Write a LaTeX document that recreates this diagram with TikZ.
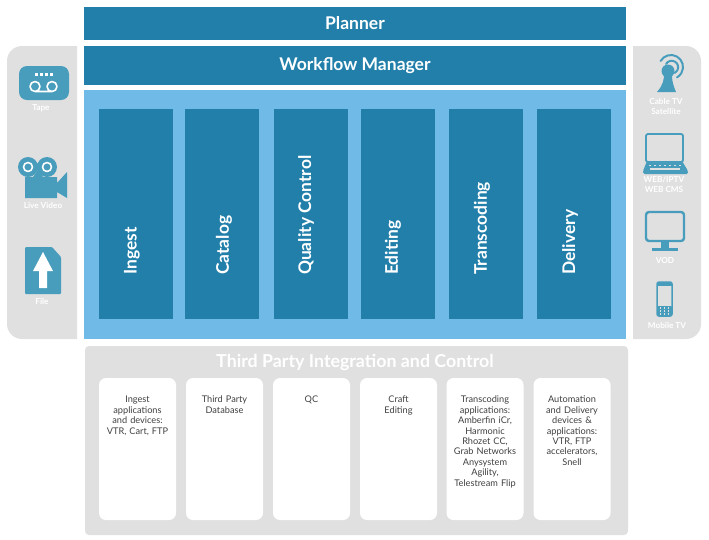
\documentclass[tikz,border=0pt]{standalone}
\usepackage{fontspec}
\setmainfont{Lato}
\usetikzlibrary{positioning}

\tikzset{
    barbox/.style={fill=stagedark, minimum width=542pt, inner sep=0pt, text=white, font=\fontsize{17.5}{20}\selectfont\bfseries},
    stagebox/.style={fill=stagedark, minimum width=74pt, minimum height=210pt, inner sep=0pt},
    stagetext/.style={text=white, rotate=90, anchor=west, inner sep=0pt, font=\fontsize{17.4}{20}\selectfont\bfseries},
    cardbox/.style={fill=white, rounded corners=7pt, minimum width=77pt, minimum height=142pt, inner sep=0pt},
    cardtext/.style={anchor=north, align=center, text width=77pt, inner sep=0pt, text=black!75, font=\fontsize{9.2}{10.4}\selectfont},
    iconlabel/.style={text=white, align=center, inner sep=0pt, font=\fontsize{8.2}{10}\selectfont\bfseries}
}

\begin{document}
\begin{tikzpicture}[x=1pt, y=-1pt, line join=round]

    % --- Colors ---
    \definecolor{stagedark}{RGB}{33, 127, 170}
    \definecolor{stagelight}{RGB}{112, 186, 232}
    \definecolor{panelgray}{RGB}{224, 224, 224}
    \definecolor{iconteal}{RGB}{73, 157, 188}

    \useasboundingbox (0, 0) rectangle (709, 539);
    \fill[white] (0, 0) rectangle (709, 539);

    % --- 1. Top bars and panels ---
    \node[barbox, minimum height=33pt] (planner) at (355, 23.5) {Planner};
    \node[barbox, minimum height=39pt] (workflow) at (355, 65.5) {Workflow Manager};
    \fill[stagelight] (84, 90) rectangle (626, 339);

    \fill[panelgray] (77, 46) {[rounded corners=15pt] -- (7, 46) -- (7, 339)} -- (77, 339) -- cycle;
    \fill[panelgray] (633, 46) {[rounded corners=15pt] -- (701, 46) -- (701, 339)} -- (633, 339) -- cycle;
    \fill[panelgray, rounded corners=4pt] (85, 346) rectangle (628, 535);

    % --- 2. Stages ---
    \foreach \n/\x/\tx/\t in {ingest/136/132/Ingest, catalog/222/224/Catalog, quality/310.5/306/Quality Control,
        editing/398/393/Editing, transcoding/486/482/Transcoding, delivery/574/570/Delivery} {
        \node[stagebox] (\n) at (\x, 214) {};
        \node[stagetext] (l\n) at (\tx, 275) {\t};
    }

    % --- 3. Third party cards ---
    \node[text=white, inner sep=0pt, font=\fontsize{17.8}{20}\selectfont\bfseries] (third) at (355, 362) {Third Party Integration and Control};

    \foreach \n/\x/\t in {
        cingest/137.5/{Ingest\\applications\\and devices:\\VTR, Cart, FTP},
        cdata/224.5/{Third Party\\Database},
        cqc/311.5/{QC},
        ccraft/398.5/{Craft\\Editing},
        ctrans/485/{Transcoding\\applications:\\Amberfin iCr,\\Harmonic\\Rhozet CC,\\Grab Networks\\Anysystem\\Agility,\\Telestream Flip},
        cauto/572/{Automation\\and Delivery\\devices \&\\applications:\\VTR, FTP\\accelerators,\\Snell}%
    } {%
        \node[cardbox] (\n) at (\x, 449) {};
        \node[cardtext] (l\n) at (\x, 396) {\t};
    }

    % --- 4. Left icons ---
    % Tape
    \fill[iconteal, rounded corners=8pt] (19, 66) rectangle (69, 100);
    \foreach \x in {36.5, 41.5, 46.5, 51.5} {
        \fill[white] (\x-1.3, 72.5) rectangle (\x+1.3, 75.5);
    }
    \draw[white, line width=1.6pt] (35, 86.5) circle (5) (52, 86.5) circle (5) (35, 91.5) -- (52, 91.5);
    \node[iconlabel] (tape) at (41, 108) {Tape};

    % Live video
    \fill[iconteal] (25, 177) -- (57, 177) -- (57, 183) -- (67, 172) -- (67, 198) -- (57, 192) -- (57, 198) -- (25, 198) -- cycle;
    \fill[iconteal] (33, 177) -- (38, 170) -- (43, 177) -- cycle;
    \fill[iconteal] (28, 167) circle (10) (47, 167) circle (10);
    \draw[white, line width=1.6pt] (28, 167) circle (4.5) (47, 167) circle (4.5);
    \node[iconlabel] (live) at (43, 205) {Live Video};

    % File
    \fill[iconteal, rounded corners=1pt] (25, 247) -- (52, 247) -- (61, 257) -- (61, 294) -- (25, 294) -- cycle;
    \fill[white] (43, 252) -- (53, 271) -- (47, 271) -- (47, 288) -- (39, 288) -- (39, 271) -- (33, 271) -- cycle;
    \node[iconlabel] (file) at (42, 301) {File};

    % --- 5. Right icons ---
    % Antenna
    \fill[iconteal] (657, 92) .. controls (663, 85) and (664, 80) .. (664, 74) -- (672, 76) .. controls (672, 82) and (674, 87) .. (676, 92) -- cycle;
    \fill[iconteal] (668, 71) circle (6.5);
    \draw[iconteal, line width=2pt, line cap=round] (660.6, 61) arc[start angle=-150, end angle=60, radius=12];
    \draw[iconteal, line width=2pt, line cap=round] (666, 64) arc[start angle=-150, end angle=60, radius=6.5];
    \node[iconlabel] (cable) at (666, 106.5) {Cable TV\\Satellite};

    % Laptop
    \fill[panelgray, draw=iconteal, line width=1.8pt, rounded corners=2pt] (646, 134) rectangle (683, 162);
    \fill[iconteal, rounded corners=1.5pt] (647, 161) -- (682, 161) -- (688, 171) -- (688, 174) -- (643, 174) -- (643, 171) -- cycle;
    \foreach \x in {650, 655, 660, 665, 670, 675, 680} {
        \fill[panelgray] (\x-1.2, 164.5) rectangle (\x+1.2, 166);
    }
    \fill[panelgray] (650, 168) rectangle (680, 169.5);
    \node[iconlabel] (web) at (664, 184) {WEB/IPTV\\WEB CMS};

    % Monitor
    \fill[panelgray, draw=iconteal, line width=2.4pt, rounded corners=3pt] (646, 212) rectangle (684, 241);
    \fill[iconteal] (661, 242) rectangle (669, 248);
    \fill[iconteal] (652, 248) rectangle (678, 251);
    \node[iconlabel] (vod) at (665, 261) {VOD};

    % Mobile
    \fill[panelgray, draw=iconteal, line width=1.5pt, rounded corners=2pt] (657, 282) rectangle (672, 316);
    \fill[iconteal] (657, 282) rectangle (672, 286);
    \fill[iconteal, rounded corners=1pt] (657, 306) rectangle (672, 316);
    \foreach \x in {660.5, 664.5, 668.5} {
        \foreach \y in {308, 311, 314} {
            \fill[panelgray] (\x-0.9, \y-0.8) rectangle (\x+0.9, \y+0.8);
        }
    }
    \node[iconlabel] (mobile) at (667, 325) {Mobile TV};

\end{tikzpicture}
\end{document}
